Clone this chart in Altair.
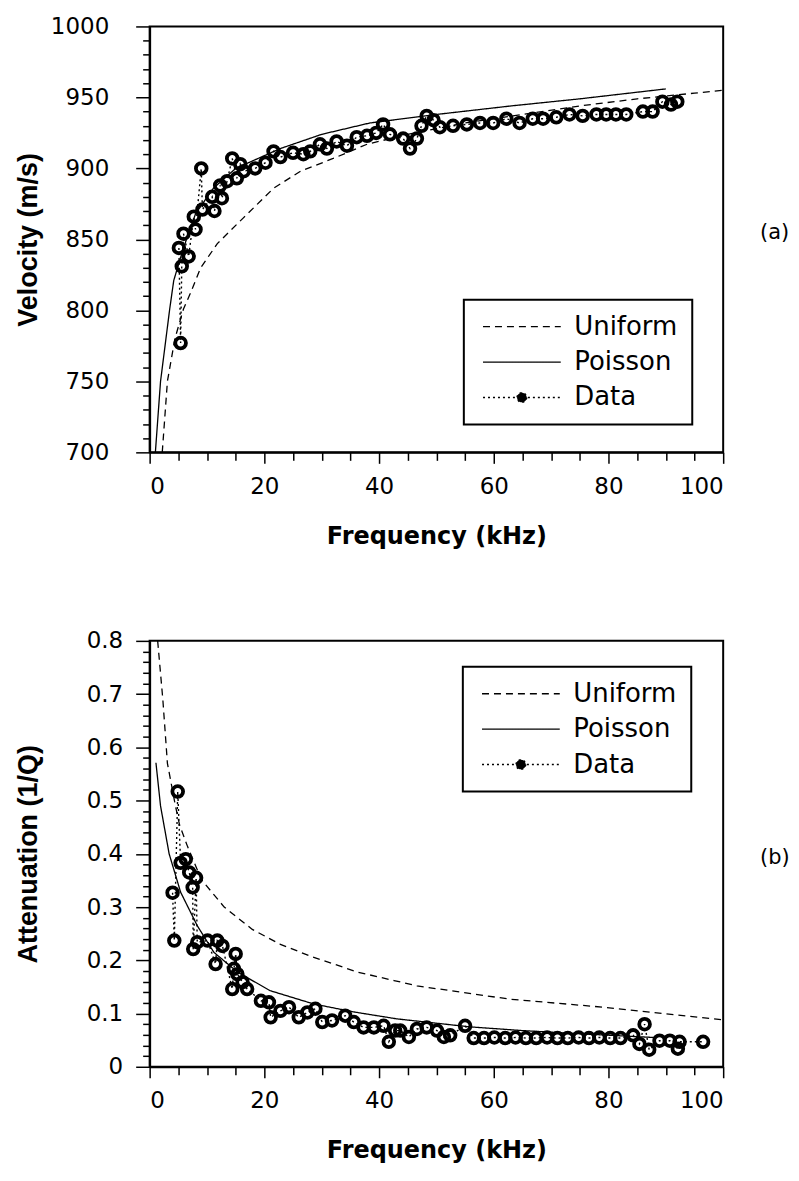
import altair as alt
import pandas as pd

# ---------------- Panel (a): velocity ----------------
vel_uniform_f = [2.2, 3.1, 4.4, 5.9, 7.1, 8.9, 11.8, 16.3, 21.6, 26.3, 32, 37.9, 45, 55, 65, 75, 85, 95, 100]
vel_uniform_v = [700, 750, 780, 801, 812, 830, 847, 865, 886, 898, 907, 917, 924, 932, 938, 944, 949, 953, 955]

vel_poisson_f = [1.0, 1.9, 3.5, 4.2, 5.9, 8.0, 11.1, 15, 22.8, 30, 38.4, 50, 63, 75, 90]
vel_poisson_v = [700, 750, 801, 821, 844, 868, 886, 900, 914, 924, 932, 938, 944, 949, 956]

vel_data_f = [5.1, 5.4, 5.6, 5.9, 6.8, 7.7, 8.0, 9.0, 9.2, 10.9, 11.3, 12.3, 12.6, 13.5, 14.4,
              15.2, 15.8, 16.4, 18.4, 20.2, 21.6, 22.8, 25.0, 26.8, 28.0, 29.7, 30.9, 32.6, 34.4,
              36.1, 37.9, 39.5, 40.7, 41.9, 44.2, 45.4, 46.6, 47.4, 48.3, 49.5, 50.6, 52.9, 55.3,
              57.6, 59.9, 62.2, 64.5, 66.8, 68.6, 70.9, 73.2, 75.5, 77.9, 79.6, 81.3, 83.1, 86.0,
              87.7, 89.4, 90.9, 92.0]
vel_data_v = [844, 777, 831, 854, 838, 866, 857, 900, 871, 880, 870, 888, 879, 891, 907,
              893, 903, 898, 900, 904, 912, 908, 911, 910, 912, 917, 914, 919, 916,
              922, 923, 925, 931, 924, 921, 914, 921, 930, 937, 934, 929, 930, 931,
              932, 932, 935, 932, 935, 935, 936, 938, 937, 938, 938, 938, 938, 940,
              940, 947, 945, 947]

# ---------------- Panel (b): attenuation ----------------
att_uniform_f = [1.4, 2.3, 3.1, 4.5, 5.2, 6.6, 9, 13, 17.9, 22.8, 28, 36.2, 42.6, 46.6, 62.8, 79, 100]
att_uniform_a = [0.80, 0.69, 0.57, 0.49, 0.455, 0.414, 0.352, 0.30, 0.258, 0.23, 0.208, 0.178, 0.162, 0.152, 0.127, 0.112, 0.088]

att_poisson_f = [1.1, 1.9, 3.4, 5.4, 8.3, 11.2, 15.3, 21, 28.6, 35.6, 43.1, 55.8, 65, 75, 88]
att_poisson_a = [0.571, 0.49, 0.40, 0.328, 0.265, 0.215, 0.178, 0.143, 0.118, 0.103, 0.09, 0.075, 0.068, 0.062, 0.055]

att_data_f = [4.0, 4.3, 4.9, 5.4, 6.3, 6.9, 7.5, 7.6, 8.1, 8.3, 10.1, 11.5, 11.8, 12.7, 14.4,
              14.7, 15.0, 15.3, 16.2, 17.0, 19.4, 20.8, 21.1, 22.8, 24.3, 26.0, 27.5, 28.9, 30.1,
              31.8, 34.1, 35.6, 37.3, 39.1, 40.8, 41.7, 42.8, 43.7, 45.2, 46.6, 48.3, 50.1, 51.3,
              52.4, 55.0, 56.5, 58.3, 60.1, 62.0, 63.8, 65.6, 67.4, 69.3, 71.1, 72.9, 74.8, 76.6,
              78.4, 80.3, 82.1, 84.3, 85.4, 86.3, 87.1, 88.9, 90.7, 92.1, 92.4, 96.5]
att_data_a = [0.327, 0.237, 0.517, 0.383, 0.390, 0.365, 0.337, 0.221, 0.355, 0.234, 0.237, 0.193, 0.237, 0.227, 0.146,
              0.184, 0.212, 0.174, 0.159, 0.146, 0.124, 0.121, 0.093, 0.105, 0.112, 0.093, 0.102, 0.109, 0.084,
              0.087, 0.096, 0.084, 0.074, 0.074, 0.077, 0.047, 0.068, 0.068, 0.056, 0.071, 0.074, 0.068, 0.056,
              0.059, 0.077, 0.054, 0.054, 0.055, 0.054, 0.055, 0.054, 0.054, 0.055, 0.054, 0.054, 0.055, 0.054,
              0.055, 0.054, 0.054, 0.059, 0.043, 0.080, 0.032, 0.049, 0.049, 0.034, 0.047, 0.047]

series_names = ["Uniform", "Poisson", "Data"]
dash_range = [[7, 5], [1, 0], [2, 3]]

# legend symbols: long horizontal stroke (and a dot for the data entry)
STROKE_SYMBOL = "M-5,0L5,0"
DATA_SYMBOL = "M-5,0L5,0M0.62,0A0.62,0.62,0,1,1,-0.62,0A0.62,0.62,0,1,1,0.62,0Z"
SYM_SIZE = 243  # nominal symbol width sqrt(243)=15.6 px; path reaches +-39 px

W, H = 575, 427
FONT = "DejaVu Sans"


def build_panel(uf, uv, pf, pv, df_, dv, ydomain, yvalues, ylabel_expr, ytick_test,
                ytitle, legx, legy, tag, tagy, ylabpad):
    curves = pd.DataFrame({
        "f": list(uf) + list(pf),
        "y": list(uv) + list(pv),
        "series": ["Uniform"] * len(uf) + ["Poisson"] * len(pf),
    })
    data = pd.DataFrame({"f": df_, "y": dv, "series": ["Data"] * len(df_)})

    xtest = "datum.value % 20 === 0"
    xenc = alt.X("f:Q", scale=alt.Scale(domain=[0, 100], nice=False),
                 axis=alt.Axis(values=list(range(0, 101, 5)), tickCount=500,
                               labelExpr=xtest + " ? format(datum.value, 'd') : ''",
                               labelOverlap=False,
                               labelFontSize={"condition": {"test": xtest, "value": 23}, "value": 0},
                               tickSize={"condition": {"test": xtest, "value": 11}, "value": 8},
                               labelPadding=12,
                               title="Frequency  (kHz)", titleX=W / 2, titleY=91,
                               titleBaseline="alphabetic", titleFont=FONT,
                               titleFontSize=24, titleFontWeight="bold"))
    yenc = alt.Y("y:Q", scale=alt.Scale(domain=ydomain, nice=False, zero=False),
                 axis=alt.Axis(values=yvalues, tickCount=500,
                               labelExpr=ylabel_expr, labelOverlap=False,
                               labelFontSize={"condition": {"test": ytick_test, "value": 23}, "value": 0},
                               tickSize={"condition": {"test": ytick_test, "value": 14}, "value": 7},
                               labelPadding=ylabpad,
                               title=ytitle, titleAngle=270, titleX=-121, titleY=H / 2,
                               titleBaseline="middle", titleAlign="center",
                               titleFont="Liberation Sans", titleFontSize=27,
                               titleFontWeight="bold"))

    dash = alt.StrokeDash(
        "series:N",
        scale=alt.Scale(domain=series_names, range=dash_range),
        legend=alt.Legend(
            title=None, orient="none", legendX=legx, legendY=legy,
            symbolType=alt.ExprRef(expr="datum.value === 'Data' ? '" + DATA_SYMBOL + "' : '" + STROKE_SYMBOL + "'"),
            symbolFillColor=alt.ExprRef(expr="datum.value === 'Data' ? 'black' : 'transparent'"),
            symbolSize=SYM_SIZE, symbolStrokeWidth=1.4, symbolStrokeColor="black",
            symbolOffset=31.2,
            labelFont=FONT, labelFontSize=26, labelColor="black", labelOffset=39.5,
            rowPadding=9.5, padding=14, strokeColor="black", fillColor="white",
        ),
    )

    lines = alt.Chart(curves).mark_line(color="black", strokeWidth=1.3, clip=True).encode(
        x=xenc, y=yenc, strokeDash=dash, detail="series:N")
    dline = alt.Chart(data).mark_line(color="black", strokeWidth=1.4, clip=True).encode(
        x="f:Q", y="y:Q", strokeDash=dash)
    pts = alt.Chart(data).mark_point(shape="circle", size=115, filled=False,
                                     color="black", strokeWidth=3.8, opacity=1,
                                     clip=True).encode(x="f:Q", y="y:Q")
    tagc = alt.Chart(pd.DataFrame({"t": [tag]})).mark_text(
        align="left", baseline="middle", font=FONT, fontSize=21, color="black"
    ).encode(text="t:N", x=alt.value(612), y=alt.value(tagy))

    return alt.layer(lines, dline, pts, tagc).properties(width=W, height=H)


top = build_panel(vel_uniform_f, vel_uniform_v, vel_poisson_f, vel_poisson_v,
                  vel_data_f, vel_data_v, [700, 1000], list(range(700, 1001, 10)),
                  "datum.value % 50 === 0 ? format(datum.value, 'd') : ''",
                  "datum.value % 50 === 0", "Velocity  (m/s)", 315, 274, "(a)", 207, 27)

bottom = build_panel(att_uniform_f, att_uniform_a, att_poisson_f, att_poisson_a,
                     att_data_f, att_data_a, [0, 0.8],
                     [round(i * 0.02, 2) for i in range(0, 41)],
                     "abs(datum.value * 10 - round(datum.value * 10)) < 1e-6 ? format(datum.value, '.1~f') : ''",
                     "abs(datum.value * 10 - round(datum.value * 10)) < 1e-6",
                     "Attenuation  (1/Q)", 314, 26, "(b)", 218, 13)

chart = alt.vconcat(top, bottom, spacing=189, bounds="flush").resolve_scale(
    strokeDash="independent").resolve_legend(strokeDash="independent").properties(
    padding={"left": 6, "top": 5, "right": 0, "bottom": 5}
).configure_view(stroke="black", strokeWidth=2).configure_axis(
    domainColor="black", domainWidth=2, tickColor="black", tickWidth=1.5,
    labelFont=FONT, labelColor="black", titleColor="black",
    grid=False
).configure_legend(strokeWidth=2)

chart.save("out.html", embed_options={"renderer": "svg", "actions": False})
